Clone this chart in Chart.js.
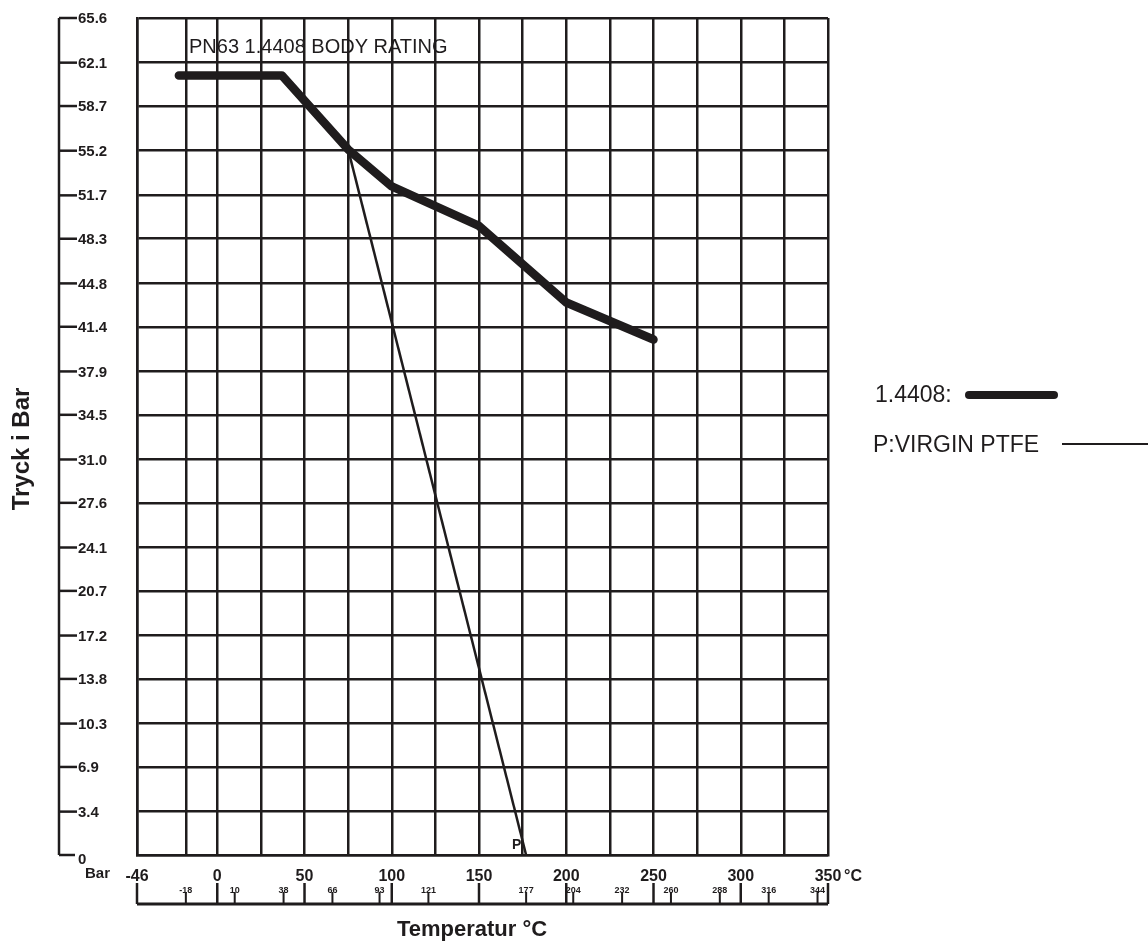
<!DOCTYPE html>
<html>
<head>
<meta charset="utf-8">
<title>PN63 1.4408 body rating</title>
<script src="https://cdn.jsdelivr.net/npm/chart.js@4.4.1/dist/chart.umd.min.js"></script>
<style>
  html, body { margin: 0; padding: 0; background: #fff; }
  canvas { display: block; }
</style>
</head>
<body>
<canvas id="ratingChart" width="1148" height="943"></canvas>
<script>
// Pressure axis labels (bar), bottom to top
const yLabels = ['0', '3.4', '6.9', '10.3', '13.8', '17.2', '20.7', '24.1', '27.6', '31.0',
  '34.5', '37.9', '41.4', '44.8', '48.3', '51.7', '55.2', '58.7', '62.1', '65.6'];
const yTicks = yLabels.map(Number);

// Temperature grid columns and axis labels (°C)
const xGrid = [-46, -18, 0, 25, 50, 75, 100, 125, 150, 175, 200, 225, 250, 275, 300, 325, 350];
const xMajor = [-46, 0, 50, 100, 150, 200, 250, 300, 350];
const xMinor = [-18, 10, 38, 66, 93, 121, 177, 204, 232, 260, 288, 316, 344];

// 1.4408 body rating
const bodyTemps = [-22, 37, 75, 100, 150, 200, 250];
const bodyBar = [61.1, 61.1, 55.3, 52.4, 49.3, 43.3, 40.4];

// P: virgin PTFE seat
const ptfeTemps = [75, 177];
const ptfeBar = [55.3, 0];

const INK = '#1f1c1d';
const FONT = '"Liberation Sans", Arial, sans-serif';

document.addEventListener('DOMContentLoaded', () => {
  const toPoints = (xs, ys) => xs.map((x, i) => ({ x: x, y: ys[i] }));

  // draws the detached pressure axis, the temperature ruler and all texts
  const decorations = {
    id: 'decorations',
    afterDraw(chart) {
      const ctx = chart.ctx;
      const xs = chart.scales.x;
      const ys = chart.scales.y;
      const area = chart.chartArea;
      ctx.save();
      ctx.strokeStyle = INK;
      ctx.fillStyle = INK;
      ctx.lineCap = 'butt';

      // pressure axis
      const axX = 59;
      ctx.lineWidth = 2.5;
      ctx.beginPath();
      ctx.moveTo(axX, ys.getPixelForValue(yTicks[yTicks.length - 1]));
      ctx.lineTo(axX, ys.getPixelForValue(0));
      ctx.stroke();
      ctx.font = 'bold 15px ' + FONT;
      ctx.textAlign = 'left';
      ctx.textBaseline = 'middle';
      yTicks.forEach((v, i) => {
        const py = ys.getPixelForValue(v);
        ctx.beginPath();
        ctx.moveTo(axX, py);
        ctx.lineTo(i === 0 ? 75 : 77, py);
        ctx.stroke();
        ctx.fillText(yLabels[i], 78, i === 0 ? py + 5 : py + 1);
      });
      ctx.fillText('Bar', 85, 874);

      // temperature ruler
      const rulerY = 904;
      ctx.lineWidth = 3;
      ctx.beginPath();
      ctx.moveTo(xs.getPixelForValue(xMajor[0]), rulerY);
      ctx.lineTo(xs.getPixelForValue(xMajor[xMajor.length - 1]), rulerY);
      ctx.stroke();
      ctx.lineWidth = 2.5;
      ctx.textAlign = 'center';
      ctx.font = 'bold 16px ' + FONT;
      xMajor.forEach(v => {
        const px = xs.getPixelForValue(v);
        ctx.fillText(String(v), px, 877);
      });
      xMajor.forEach(v => {
        const px = xs.getPixelForValue(v);
        ctx.beginPath();
        ctx.moveTo(px, rulerY);
        ctx.lineTo(px, 883);
        ctx.stroke();
      });
      ctx.textAlign = 'left';
      ctx.fillText('°C', xs.getPixelForValue(350) + 16, 877);
      ctx.textAlign = 'center';
      ctx.font = 'bold 9px ' + FONT;
      ctx.lineWidth = 2;
      xMinor.forEach(v => {
        const px = xs.getPixelForValue(v);
        ctx.fillText(String(v), px, 891);
        ctx.beginPath();
        ctx.moveTo(px, rulerY);
        ctx.lineTo(px, 892);
        ctx.stroke();
      });

      // axis titles
      ctx.font = 'bold 22px ' + FONT;
      ctx.textAlign = 'center';
      ctx.fillText('Temperatur °C', 472, 930);
      ctx.save();
      ctx.translate(22, 449);
      ctx.rotate(-Math.PI / 2);
      ctx.font = 'bold 24px ' + FONT;
      ctx.fillText('Tryck i Bar', 0, 0);
      ctx.restore();

      // chart texts
      ctx.textAlign = 'left';
      ctx.font = '20px ' + FONT;
      ctx.fillText('PN63 1.4408 BODY RATING', area.left + 52, 47);
      ctx.font = 'bold 14px ' + FONT;
      ctx.fillText('P', xs.getPixelForValue(ptfeTemps[1]) - 14, 845);

      // legend
      ctx.font = '23px ' + FONT;
      ctx.fillText('1.4408:', 875, 396);
      ctx.fillText('P:VIRGIN PTFE', 873, 446);
      ctx.lineCap = 'round';
      ctx.lineWidth = 8;
      ctx.beginPath();
      ctx.moveTo(969, 395);
      ctx.lineTo(1054, 395);
      ctx.stroke();
      ctx.lineCap = 'butt';
      ctx.lineWidth = 2;
      ctx.beginPath();
      ctx.moveTo(1062, 444);
      ctx.lineTo(1148, 444);
      ctx.stroke();
      ctx.restore();
    }
  };

  const ctx = document.getElementById('ratingChart').getContext('2d');
  new Chart(ctx, {
    type: 'line',
    data: {
      datasets: [{
        label: '1.4408',
        data: toPoints(bodyTemps, bodyBar),
        borderColor: INK,
        borderWidth: 8.5,
        borderCapStyle: 'round',
        borderJoinStyle: 'round',
        pointRadius: 0,
        tension: 0
      }, {
        label: 'P:VIRGIN PTFE',
        data: toPoints(ptfeTemps, ptfeBar),
        borderColor: INK,
        borderWidth: 2.5,
        pointRadius: 0,
        tension: 0
      }]
    },
    options: {
      responsive: false,
      animation: false,
      devicePixelRatio: 1,
      layout: { padding: { left: 137, top: 18, right: 320, bottom: 88 } },
      plugins: { legend: { display: false }, tooltip: { enabled: false } },
      scales: {
        x: {
          type: 'linear',
          min: -46,
          max: 350,
          afterBuildTicks: scale => { scale.ticks = xGrid.map(v => ({ value: v })); },
          afterFit: scale => { scale.height = 0; },
          ticks: { display: false },
          grid: { color: INK, lineWidth: 2.5, drawTicks: false },
          border: { color: INK, width: 2.5 }
        },
        y: {
          min: 0,
          max: 65.6,
          afterBuildTicks: scale => { scale.ticks = yTicks.map(v => ({ value: v })); },
          afterFit: scale => { scale.width = 0; },
          ticks: { display: false },
          grid: { color: INK, lineWidth: 2.5, drawTicks: false },
          border: { color: INK, width: 2.5 }
        }
      }
    },
    plugins: [decorations]
  });
});
</script>
</body>
</html>
